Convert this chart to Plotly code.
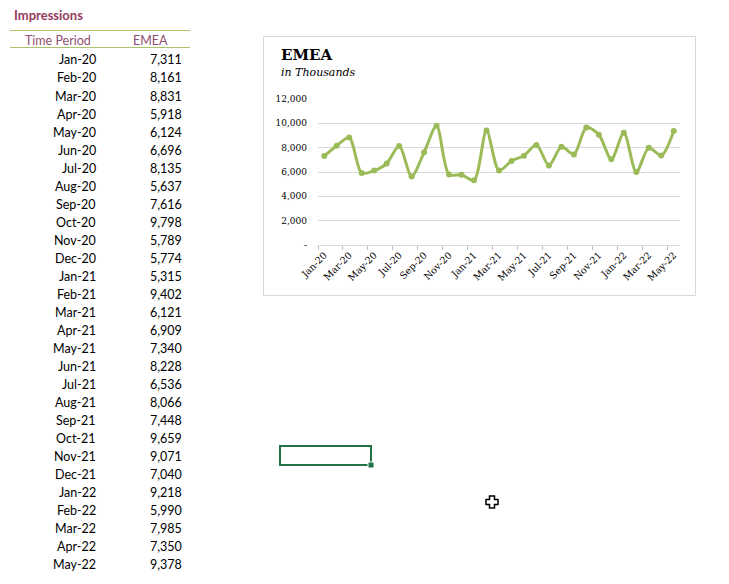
import plotly.graph_objects as go

W, H = 729, 584

months = ["Jan-20", "Feb-20", "Mar-20", "Apr-20", "May-20", "Jun-20", "Jul-20", "Aug-20",
          "Sep-20", "Oct-20", "Nov-20", "Dec-20", "Jan-21", "Feb-21", "Mar-21", "Apr-21",
          "May-21", "Jun-21", "Jul-21", "Aug-21", "Sep-21", "Oct-21", "Nov-21", "Dec-21",
          "Jan-22", "Feb-22", "Mar-22", "Apr-22", "May-22"]
emea = [7311, 8161, 8831, 5918, 6124, 6696, 8135, 5637, 7616, 9798, 5789, 5774, 5315, 9402,
        6121, 6909, 7340, 8228, 6536, 8066, 7448, 9659, 9071, 7040, 9218, 5990, 7985, 7350, 9378]
y_ticks = [0, 2000, 4000, 6000, 8000, 10000, 12000]
y_ticktext = ["-", "2,000", "4,000", "6,000", "8,000", "10,000", "12,000"]

def px(x):
    return x / W

def py(y):
    return 1 - y / H

GREEN = "#9BBB59"
GRID = "#D9D9D9"
SERIF = "DejaVu Serif"
SANS = "Lato"

idx = list(range(len(months)))

fig = go.Figure()
fig.add_trace(go.Scatter(
    x=idx, y=emea, mode="lines+markers",
    line=dict(color=GREEN, width=3, shape="spline", smoothing=0.8),
    marker=dict(color=GREEN, size=6),
    hoverinfo="skip", showlegend=False,
))

# plot area in pixels
x0, x1 = 318, 680
y0, y1 = 99, 245

fig.update_layout(
    width=W, height=H, autosize=False,
    margin=dict(l=0, r=0, t=0, b=0, pad=0, autoexpand=False),
    paper_bgcolor="white", plot_bgcolor="white",
    xaxis=dict(
        domain=[px(x0), px(x1)], range=[-0.5, len(months) - 0.5],
        tickmode="array", tickvals=idx[::2], ticktext=months[::2],
        tickangle=-45, ticks="", showgrid=False, zeroline=False,
        showline=True, linecolor=GRID, linewidth=1, automargin=False,
        tickfont=dict(family=SERIF, size=9.5, color="black"),
        minor=dict(tickmode="linear", tick0=-0.5, dtick=2, ticks="outside",
                   ticklen=4, tickcolor="#BFBFBF", tickwidth=1, showgrid=False),
        fixedrange=True,
    ),
    yaxis=dict(
        domain=[py(y1), py(y0)], range=[0, 12000],
        tickmode="array", tickvals=y_ticks, ticktext=y_ticktext,
        showgrid=True, gridcolor=GRID, gridwidth=1, zeroline=False,
        showline=False, ticks="", ticklabelstandoff=10, automargin=False,
        tickfont=dict(family=SERIF, size=9, color="black"),
        fixedrange=True,
    ),
)

shapes = []
annots = []

# chart border
shapes.append(dict(type="rect", xref="paper", yref="paper",
                   x0=px(263.5), x1=px(695.5), y0=py(295.5), y1=py(36.5),
                   line=dict(color=GRID, width=1), fillcolor="rgba(0,0,0,0)", layer="below"))

annots.append(dict(text="<b>EMEA</b>", x=px(279), y=py(55), xref="paper", yref="paper",
                   xanchor="left", yanchor="middle", showarrow=False,
                   font=dict(family=SERIF, size=15, color="black")))
annots.append(dict(text="<i>in Thousands</i>", x=px(279), y=py(72), xref="paper", yref="paper",
                   xanchor="left", yanchor="middle", showarrow=False,
                   font=dict(family=SERIF, size=11, color="black")))

# spreadsheet table
annots.append(dict(text="<b>Impressions</b>", x=px(12), y=py(15), xref="paper", yref="paper",
                   xanchor="left", yanchor="middle", showarrow=False,
                   font=dict(family=SANS, size=13, color="#953A5E")))
for yy in (30.5, 47.5):
    shapes.append(dict(type="line", xref="paper", yref="paper",
                       x0=px(10), x1=px(190), y0=py(yy), y1=py(yy),
                       line=dict(color="#A9C46C", width=1)))
annots.append(dict(text="Time Period", x=px(23), y=py(40), xref="paper", yref="paper",
                   xanchor="left", yanchor="middle", showarrow=False,
                   font=dict(family=SANS, size=12.5, color="#8E4F72")))
annots.append(dict(text="EMEA", x=px(131), y=py(40), xref="paper", yref="paper",
                   xanchor="left", yanchor="middle", showarrow=False,
                   font=dict(family=SANS, size=12.5, color="#8E4F72")))
for i, (m, v) in enumerate(zip(months, emea)):
    yy = 60 + 18 * i
    annots.append(dict(text=m, x=px(98), y=py(yy), xref="paper", yref="paper",
                       xanchor="right", yanchor="middle", showarrow=False,
                       font=dict(family=SANS, size=12.5, color="black")))
    annots.append(dict(text=f"{v:,}", x=px(184), y=py(yy), xref="paper", yref="paper",
                       xanchor="right", yanchor="middle", showarrow=False,
                       font=dict(family=SANS, size=12.5, color="black")))

# selected cell
shapes.append(dict(type="rect", xref="paper", yref="paper",
                   x0=px(280), x1=px(371), y0=py(465), y1=py(446),
                   line=dict(color="#217346", width=2), fillcolor="rgba(0,0,0,0)"))
shapes.append(dict(type="rect", xref="paper", yref="paper",
                   x0=px(368), x1=px(374), y0=py(468), y1=py(462),
                   line=dict(color="white", width=1), fillcolor="#217346"))

# cursor (fat plus)
cx, cy, a, b = 492, 502, 2.5, 6
pts = [(-a, -b), (a, -b), (a, -a), (b, -a), (b, a), (a, a), (a, b), (-a, b), (-a, a), (-b, a), (-b, -a), (-a, -a)]
path = "M " + " L ".join(f"{px(cx + dx):.5f},{py(cy + dy):.5f}" for dx, dy in pts) + " Z"
shapes.append(dict(type="path", xref="paper", yref="paper", path=path,
                   line=dict(color="black", width=1.5), fillcolor="white"))

fig.update_layout(shapes=shapes, annotations=annots)
fig.write_html("out.html")
